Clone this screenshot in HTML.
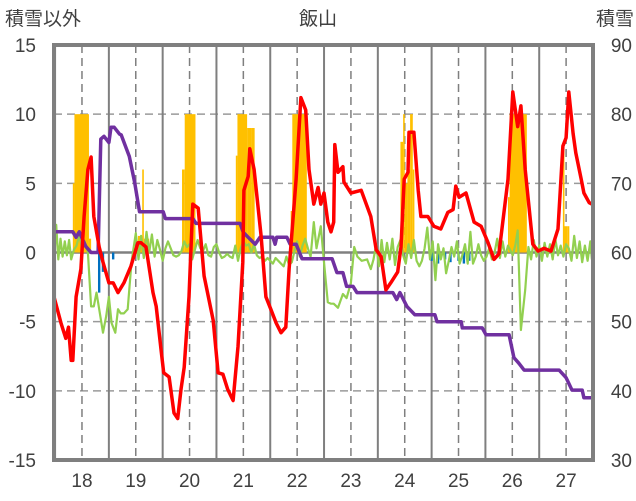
<!DOCTYPE html>
<html><head><meta charset="utf-8">
<style>
html,body{margin:0;padding:0;background:#fff;}
svg{display:block;font-family:"Liberation Sans","Noto Sans CJK JP",sans-serif;}
</style></head>
<body>
<svg id="chart" width="636" height="501" viewBox="0 0 636 501">
<text x="5" y="25" font-size="19" fill="#404040">積雪以外</text>
<text x="318" y="25" font-size="19" fill="#404040" text-anchor="middle">飯山</text>
<text x="634" y="25" font-size="19" fill="#404040" text-anchor="end">積雪</text>
<g id="grid"></g>
<g id="bars"></g>
<g id="lines"></g>
<g id="axes"></g>
</svg>
<script>
const leftTicks=[15,10,5,0,-5,-10,-15];
const rightTicks=[90,80,70,60,50,40,30];
const yearLabels=[18,19,20,21,22,23,24,25,26,27];

const redT=[17.48,17.61,17.70,17.75,17.80,17.83,17.89,17.98,18.04,18.11,18.17,18.22,18.32,18.39,18.50,18.58,18.67,18.78,18.91,19.04,19.10,19.19,19.32,19.38,19.47,19.52,19.62,19.71,19.78,19.84,19.90,19.99,20.06,20.16,20.27,20.44,20.53,20.62,20.71,20.81,20.90,20.99,21.01,21.09,21.12,21.20,21.33,21.42,21.51,21.61,21.70,21.79,21.85,21.98,22.07,22.16,22.22,22.31,22.39,22.44,22.50,22.57,22.63,22.68,22.70,22.76,22.85,22.87,23.00,23.19,23.37,23.47,23.56,23.65,23.74,23.87,23.93,23.99,24.06,24.08,24.17,24.25,24.30,24.43,24.54,24.67,24.80,24.90,24.95,25.01,25.14,25.29,25.42,25.55,25.66,25.75,25.92,26.01,26.10,26.16,26.24,26.31,26.38,26.48,26.59,26.72,26.85,26.94,27.00,27.05,27.13,27.18,27.28,27.33,27.43,27.48];
const redV=[-3.2,-5.1,-6.2,-5.4,-7.8,-7.8,-3.2,-1.2,2.6,6.0,6.9,2.6,0.4,-0.7,-2.2,-2.2,-2.9,-2.2,-1.0,0.7,0.7,0.4,-2.9,-3.9,-7.0,-8.7,-9.0,-11.6,-12.0,-9.9,-8.3,-3.2,3.5,3.2,-1.7,-4.9,-8.7,-8.8,-9.9,-10.7,-6.8,-0.7,4.5,5.5,7.5,6.0,1.2,-3.2,-4.1,-5.1,-5.8,-5.4,-1.2,5.3,11.2,10.3,6.0,3.5,4.7,3.5,4.3,2.2,1.5,2.2,7.8,5.8,6.2,5.1,4.3,4.5,2.6,0.2,-0.3,-2.7,-2.2,-1.4,0.4,5.3,5.8,8.7,8.7,4.5,2.6,2.6,1.9,1.7,2.9,3.1,4.8,4.0,4.3,2.2,1.9,0.7,-0.5,-0.1,5.3,11.6,9.1,10.6,6.0,3.3,0.6,0.1,0.3,0.1,1.7,7.7,8.3,11.6,8.6,7.2,5.3,4.3,3.6,3.5];

const purT=[17.48,17.83,17.89,17.95,18.07,18.17,18.30,18.35,18.41,18.50,18.54,18.60,18.70,18.73,18.88,18.98,19.07,19.16,19.51,19.55,20.06,20.12,20.94,21.00,21.09,21.22,21.31,21.55,21.59,21.62,21.81,21.87,21.98,22.09,22.65,22.74,22.85,22.92,23.04,23.11,23.78,23.85,23.91,24.04,24.19,24.56,24.60,25.05,25.07,25.44,25.51,25.94,26.03,26.12,26.22,26.87,27.00,27.11,27.30,27.33,27.50];
const purV=[63.0,63.0,62.2,63.0,60.9,60.0,60.0,76.4,76.8,75.9,78.1,78.1,77.1,77.0,73.9,70.1,65.9,65.9,65.9,64.9,64.9,64.2,64.2,62.9,62.2,61.2,62.2,62.2,61.2,62.2,62.2,61.2,61.2,59.1,59.1,57.1,57.1,55.1,55.1,54.2,54.2,53.2,54.2,52.2,51.0,51.0,50.0,50.0,49.1,49.1,48.1,48.1,44.8,44.0,43.0,43.0,41.9,40.1,40.1,39.0,39.0];

const grnT=[17.48,17.52,17.56,17.60,17.64,17.68,17.72,17.76,17.80,17.85,17.90,17.95,18.00,18.05,18.11,18.17,18.22,18.27,18.32,18.39,18.45,18.50,18.55,18.62,18.67,18.72,18.78,18.85,18.92,19.00,19.05,19.10,19.15,19.20,19.25,19.30,19.35,19.40,19.45,19.50,19.55,19.60,19.65,19.70,19.75,19.80,19.85,19.90,19.95,20.00,20.05,20.10,20.15,20.20,20.25,20.30,20.35,20.40,20.45,20.50,20.55,20.60,20.65,20.70,20.75,20.80,20.85,20.90,20.95,21.00,21.05,21.10,21.15,21.20,21.25,21.30,21.35,21.40,21.45,21.50,21.55,21.60,21.65,21.70,21.75,21.80,21.85,21.90,21.95,22.00,22.05,22.10,22.15,22.20,22.25,22.31,22.36,22.44,22.50,22.57,22.63,22.68,22.76,22.85,22.92,23.00,23.06,23.12,23.20,23.30,23.37,23.42,23.47,23.52,23.57,23.62,23.67,23.72,23.77,23.82,23.87,23.92,23.97,24.02,24.07,24.12,24.17,24.22,24.27,24.32,24.37,24.42,24.47,24.52,24.57,24.62,24.67,24.72,24.77,24.82,24.87,24.92,24.97,25.02,25.07,25.12,25.17,25.22,25.27,25.32,25.37,25.42,25.47,25.52,25.57,25.62,25.67,25.72,25.77,25.82,25.87,25.92,26.01,26.06,26.10,26.16,26.24,26.30,26.35,26.40,26.45,26.50,26.55,26.60,26.65,26.70,26.75,26.80,26.85,26.90,26.95,27.00,27.05,27.10,27.15,27.20,27.25,27.30,27.35,27.40,27.45,27.48];
const grnV=[-0.7,2.0,-0.5,1.0,-0.3,0.8,-0.2,0.9,-0.5,0.2,0.5,1.3,0.3,0.8,0.0,-3.9,-3.9,-2.9,-4.1,-5.8,-4.6,-3.2,-5.1,-5.8,-4.1,-4.4,-4.4,-4.1,-0.7,1.4,-0.5,1.2,-0.4,1.5,0.0,1.3,-0.3,0.9,0.2,-0.6,0.3,0.8,0.3,-0.2,-0.3,-0.2,0.1,0.8,0.4,0.6,-0.5,0.2,0.9,0.3,0.1,0.6,-0.2,-0.3,0.4,0.6,0.0,-0.4,-0.3,-0.1,-0.3,-0.4,0.5,-0.6,0.3,0.8,0.5,0.6,0.0,0.6,-0.2,-0.4,-0.3,-0.6,-0.4,-0.6,-0.8,-0.4,-0.6,-0.8,-1.0,-0.3,-0.9,-0.7,0.1,0.8,-0.3,0.5,1.0,0.3,-0.3,2.2,0.3,1.9,-0.7,-3.6,-3.7,-3.7,-4.0,-3.0,-3.3,-2.2,0.4,-0.3,-0.6,-0.5,-1.2,-0.5,0.6,-1.0,0.9,-0.7,0.7,-0.5,1.0,-0.9,0.4,0.9,-0.2,-0.8,0.6,-0.4,0.9,-0.6,-1.0,-0.6,0.3,1.8,-0.5,0.8,-2.0,0.6,-0.5,0.3,-1.5,-0.6,0.4,-0.3,0.8,-0.8,-0.2,0.6,-0.8,1.5,-0.8,-0.3,0.6,-0.2,-0.6,-0.3,0.3,-0.5,0.0,1.0,-0.4,0.8,-0.3,0.5,-0.2,0.6,1.6,-5.6,-2.7,0.4,-0.5,0.9,-0.3,0.5,-0.6,0.7,-0.3,0.6,-0.5,1.0,-0.2,0.5,-0.3,0.6,0.3,-0.6,1.2,-0.4,0.8,-0.7,0.5,-0.6,0.8,-0.5,-0.8,-0.7];

const orgStart=[17.83,17.86,18.13,19.04,19.12,19.15,19.86,19.91,20.86,20.89,21.07,21.15,21.88,21.91,23.92,23.97,24.00,24.05,24.10,24.15,25.92,25.95,26.94,26.97,27.03];
const orgEnd=[17.86,18.13,18.17,19.12,19.15,19.25,19.91,20.11,20.89,21.07,21.15,21.21,21.91,22.18,23.97,24.00,24.05,24.10,24.15,24.18,25.95,26.27,26.97,27.03,27.06];
const orgV=[5,10,1,1.2,6,1,6,10,7,10,9,9,3,10,8,10,5,6,10,6,4,10,8,1.9,1.9];

const bluT=[18.32,18.39,18.58,24.50,24.62,24.75,24.85,25.00,25.10,25.20];
const bluV=[-2.9,-1.4,-0.5,-0.6,-0.8,-0.5,-0.7,-0.6,-0.8,-0.6];

const L=54,R=593,T=45,B=460;
const t0=17.48,t1=27.5;
const xs=t=>L+(t-t0)/(t1-t0)*(R-L);
const yl=v=>T+(15-v)/30*(B-T);
const yr=v=>T+(90-v)/60*(B-T);
const NS='http://www.w3.org/2000/svg';
function mk(tag,attrs,parent){const e=document.createElementNS(NS,tag);for(const k in attrs)e.setAttribute(k,attrs[k]);parent.appendChild(e);return e;}
const grid=document.getElementById('grid'),bars=document.getElementById('bars'),lines=document.getElementById('lines'),axes=document.getElementById('axes');

leftTicks.forEach((v,i)=>{
  if(v!==0&&v!==15&&v!==-15){const g=mk('line',{x1:L,x2:R,y1:yl(v),y2:yl(v),stroke:'#9a9a9a','stroke-width':1.5,'stroke-dasharray':'8,5'},grid);
  
  }
  const t=mk('text',{x:36,y:yl(v)+7,'font-size':19,fill:'#404040','text-anchor':'end'},axes);
  t.textContent=v;
  
  
});
rightTicks.forEach(v=>{
  const t=mk('text',{x:632,y:yr(v)+7,'font-size':19,fill:'#404040','text-anchor':'end'},axes);
  t.textContent=v;
  
  
});
yearLabels.forEach(y=>{
  const x=xs(y);
  const d=mk('line',{x1:x,x2:x,y1:T,y2:B,stroke:'#7f7f7f','stroke-width':1.5,'stroke-dasharray':'8,5'},grid);
  
  
  const sx=xs(y+0.5);
  if(sx<R-2){const s=mk('line',{x1:sx,x2:sx,y1:T,y2:B,stroke:'#7f7f7f','stroke-width':2},grid);
  
  }
  const t=mk('text',{x:x,y:487,'font-size':19,fill:'#404040','text-anchor':'middle'},axes);
  t.textContent=y;
  
  
});
{const s=xs(17.5);const e=mk('line',{x1:s,x2:s,y1:T,y2:B,stroke:'#7f7f7f','stroke-width':2},grid);

}

orgV.forEach((v,i)=>{
  const x0=xs(orgStart[i]),x1=xs(orgEnd[i]);
  const r=mk('rect',{x:x0,y:yl(v),width:Math.max(0.8,x1-x0),height:yl(0)-yl(v),fill:'#ffc000'},bars);
  
  
});
bluV.forEach((v,i)=>{
  const x=xs(bluT[i]);
  const r=mk('rect',{x:x-1.2,y:yl(0),width:2.4,height:yl(v)-yl(0),fill:'#0070c0'},bars);
  
  
});
{const z=mk('line',{x1:L,x2:R,y1:yl(0),y2:yl(0),stroke:'#808080','stroke-width':2.5},grid);

}

function path(T_,V_,fy,color,w,name){
  const d=T_.map((t,i)=>(i?'L':'M')+xs(t).toFixed(1)+','+fy(V_[i]).toFixed(1)).join(' ');
  const p=mk('path',{d:d,fill:'none',stroke:color,'stroke-width':w,'stroke-linejoin':'round'},lines);
  
  
}
path(grnT,grnV,yl,'#92d050',2.2,'green-series-line');
path(purT,purV,yr,'#7030a0',3.5,'snow-depth-line');
path(redT,redV,yl,'#ff0000',3.5,'red-series-line');

{const b=mk('rect',{x:L,y:T,width:R-L,height:B-T,fill:'none',stroke:'#7f7f7f','stroke-width':4},axes);

}
</script>
</body></html>
